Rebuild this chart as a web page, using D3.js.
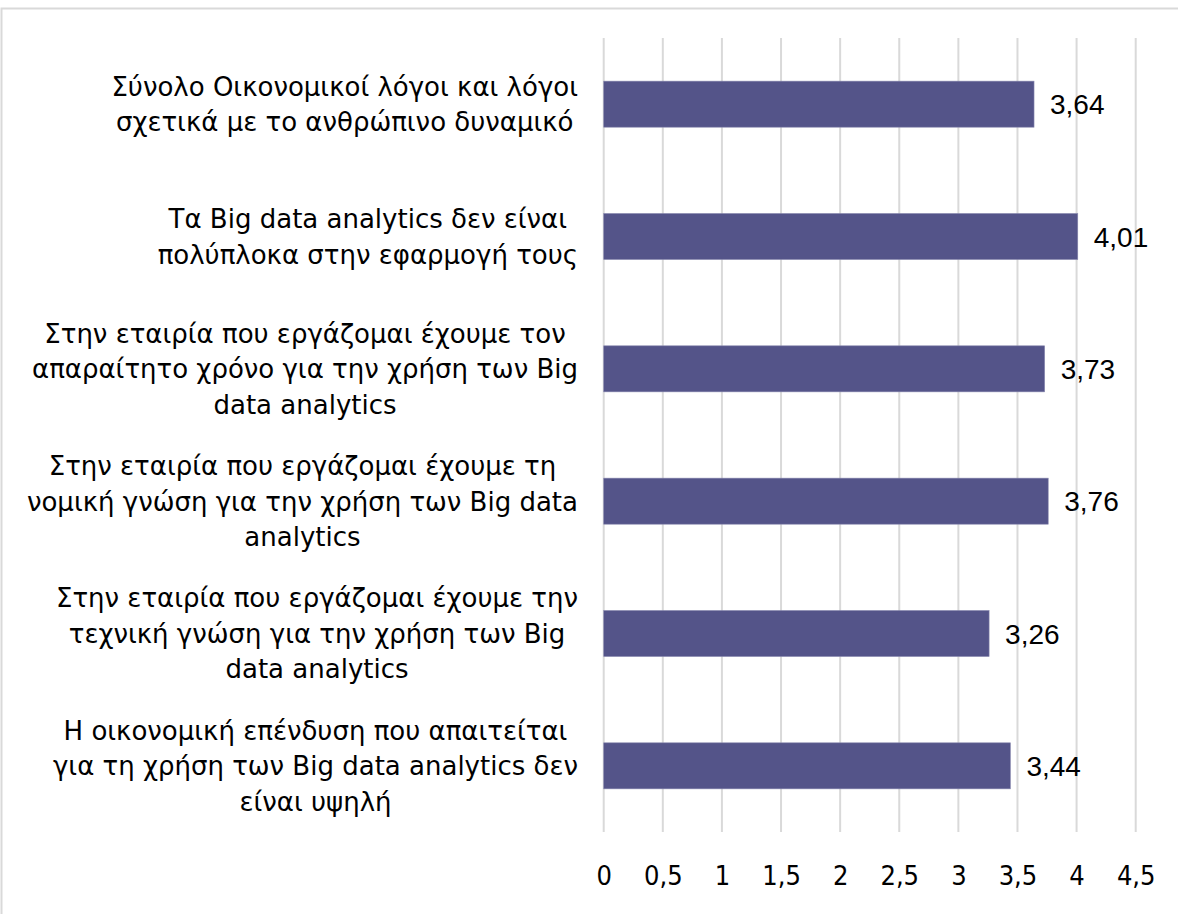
<!DOCTYPE html>
<html>
<head>
<meta charset="utf-8">
<script src="https://cdn.jsdelivr.net/npm/d3@7"></script>
<style>
  body { margin: 0; background: #fff; }
  svg { display: block; }
</style>
</head>
<body>
<svg id="svg"></svg>
<script>
var width = 1178,
    height = 914;

// category labels, already wrapped as in the original
var categories = [
  ["Σύνολο Οικονομικοί λόγοι και λόγοι", "σχετικά με το ανθρώπινο δυναμικό"],
  ["Τα Big data analytics δεν είναι", "πολύπλοκα στην εφαρμογή τους"],
  ["Στην εταιρία που εργάζομαι έχουμε τον", "απαραίτητο χρόνο για την χρήση των Big", "data analytics"],
  ["Στην εταιρία που εργάζομαι έχουμε τη", "νομική γνώση για την χρήση των Big data", "analytics"],
  ["Στην εταιρία που εργάζομαι έχουμε την", "τεχνική γνώση για την χρήση των Big", "data analytics"],
  ["Η οικονομική επένδυση που απαιτείται", "για τη χρήση των Big data analytics δεν", "είναι υψηλή"]
];
var values = [3.64, 4.01, 3.73, 3.76, 3.26, 3.44];
var xTicks = [0, 0.5, 1, 1.5, 2, 2.5, 3, 3.5, 4, 4.5];

var fmt = function(v){ return String(v).replace(".", ","); };

var svg = d3.select("#svg")
    .attr("width", width)
    .attr("height", height);

// outer chart border (only top and left visible in the picture)
svg.append("rect")
    .attr("x", 1.5).attr("y", 8.5)
    .attr("width", width + 20).attr("height", height + 20)
    .attr("fill", "none")
    .attr("stroke", "#d9d9d9")
    .attr("stroke-width", 2);

var x = d3.scaleLinear().domain([0, 4.5]).range([603.7, 1135.7]);

var y = d3.scaleBand()
    .domain(d3.range(values.length))
    .range([38, 832])
    .paddingInner(0.652)
    .paddingOuter(0.326);

// gridlines
svg.append("g")
  .selectAll("line")
  .data(xTicks)
  .enter().append("line")
    .attr("x1", function(d){ return x(d); })
    .attr("x2", function(d){ return x(d); })
    .attr("y1", 38)
    .attr("y2", 832)
    .attr("stroke", "#d9d9d9")
    .attr("stroke-width", 2);

// x axis tick labels
var xAxis = d3.axisBottom(x).tickValues(xTicks).tickFormat(fmt).tickSize(0).tickPadding(0);
var gx = svg.append("g")
    .attr("transform", "translate(0,866)")
    .call(xAxis);
gx.select(".domain").remove();
gx.selectAll("text")
    .attr("dy", "0.71em")
    .attr("font-family", "'DejaVu Sans Condensed', 'DejaVu Sans', sans-serif")
    .attr("font-size", 27)
    .attr("fill", "#000");

// bars
svg.append("g")
  .selectAll("rect")
  .data(values)
  .enter().append("rect")
    .attr("x", x(0))
    .attr("y", function(d, i){ return y(i); })
    .attr("width", function(d){ return x(d) - x(0); })
    .attr("height", y.bandwidth())
    .attr("fill", "#545489")
    .attr("stroke", "#8a8ab0")
    .attr("stroke-width", 0.6);

// data labels
svg.append("g")
  .selectAll("text")
  .data(values)
  .enter().append("text")
    .attr("x", function(d){ return x(d) + 16; })
    .attr("y", function(d, i){ return y(i) + y.bandwidth() / 2; })
    .attr("dy", "0.36em")
    .attr("font-family", "'Liberation Sans', Arial, sans-serif")
    .attr("font-size", 28)
    .attr("fill", "#000")
    .text(fmt);

// category labels: lines centred inside a block whose right edge sits left of the axis
var lineH = 35.5,
    rightEdge = 578;
categories.forEach(function(lines, i){
  var cy = y(i) + y.bandwidth() / 2;
  var g = svg.append("g");
  var texts = g.selectAll("text")
    .data(lines)
    .enter().append("text")
      .attr("y", function(d, j){ return cy + (j - (lines.length - 1) / 2) * lineH; })
      .attr("dy", "0.36em")
      .attr("text-anchor", "middle")
      .attr("font-family", "'DejaVu Sans', sans-serif")
      .attr("font-size", 26)
      .attr("fill", "#000")
      .text(function(d){ return d; });
  var maxW = d3.max(texts.nodes(), function(n){ return n.getComputedTextLength(); });
  texts.attr("x", rightEdge - maxW / 2);
});
</script>
</body>
</html>
